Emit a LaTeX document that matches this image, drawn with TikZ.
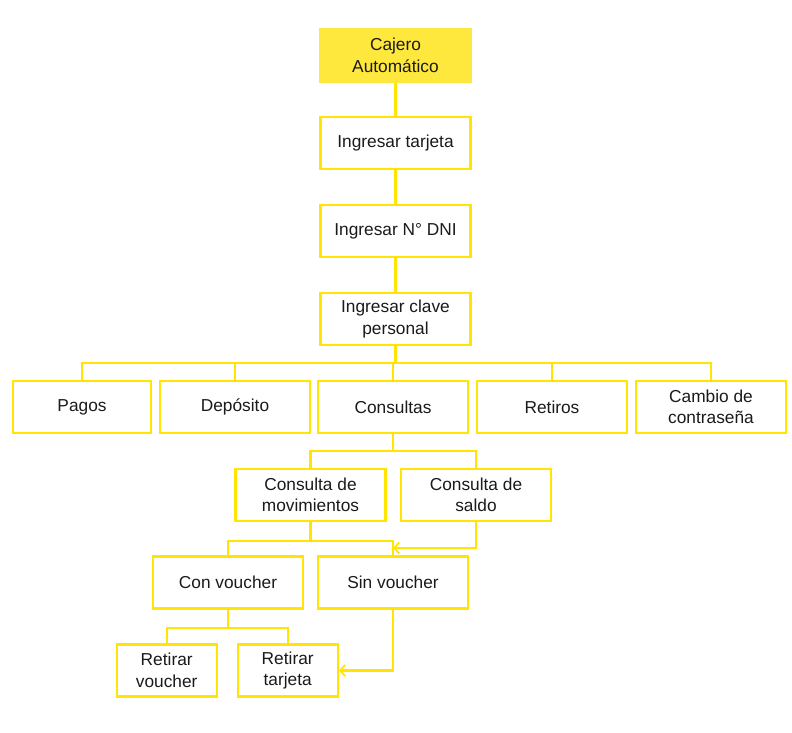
\documentclass[tikz,border=0pt]{standalone}
\usepackage{fontspec}
\setmainfont{Liberation Sans}
\usetikzlibrary{arrows.meta}
\definecolor{ylw}{HTML}{FFE500}
\definecolor{ylwfill}{HTML}{FFE83D}
\definecolor{txt}{HTML}{1A1A1A}
\tikzset{
  box/.style={draw=ylw, line width=2.4pt, rectangle, align=center, text=txt,
    minimum width=150pt, minimum height=52pt, inner sep=2pt,
    font=\fontsize{17.3}{21.5}\selectfont},
  smallbox/.style={box, minimum width=100pt},
  conn/.style={draw=ylw, line width=2.4pt},
  arr/.style={conn, -{Straight Barb[length=5pt,width=11pt,line width=1.8pt]}}
}
\begin{document}
\begin{tikzpicture}[x=1pt,y=-1pt]
\useasboundingbox (0,0) rectangle (792,732);
\node[box, fill=ylwfill, draw=ylwfill] (cajero) at (395.5,55.5) {Cajero\\Automático};
\node[box] (tarjeta) at (395.5,143) {Ingresar tarjeta};
\node[box] (dni) at (395.5,231) {Ingresar N° DNI};
\node[box] (clave) at (395.5,319) {Ingresar clave\\personal};
\node[box, minimum width=138pt] (pagos) at (82,407) {Pagos};
\node[box] (deposito) at (235,407) {Depósito};
\node[box] (consultas) at (393,407) {Consultas};
\node[box] (retiros) at (552,407) {Retiros};
\node[box] (cambio) at (711,407) {Cambio de\\contraseña};
\node[box] (mov) at (310.5,495) {Consulta de\\movimientos};
\node[box] (saldo) at (476,495) {Consulta de\\saldo};
\node[box] (con) at (228,582.5) {Con voucher};
\node[box] (sin) at (393,582.5) {Sin voucher};
\node[smallbox] (rv) at (166.7,670.5) {Retirar\\voucher};
\node[smallbox] (rt) at (287.7,670.5) {Retirar\\tarjeta};

\draw[conn] (cajero) -- (tarjeta);
\draw[conn] (tarjeta) -- (dni);
\draw[conn] (dni) -- (clave);

\draw[conn] (clave.south) -- ++(0,17) coordinate (b1);
\draw[conn] (b1) -| (pagos.north);
\draw[conn] (b1) -| (deposito.north);
\draw[conn] (b1) -| (consultas.north);
\draw[conn] (b1) -| (retiros.north);
\draw[conn] (b1) -| (cambio.north);

\draw[conn] (consultas.south) -- ++(0,17) coordinate (b2);
\draw[conn] (b2) -| (mov.north);
\draw[conn] (b2) -| (saldo.north);

\draw[conn] (mov.south) -- ++(0,19) coordinate (b3);
\draw[conn] (b3) -| (con.north);
\draw[conn] (b3) -| (sin.north);

\coordinate (join) at (393,548);
\draw[arr] (saldo.south) |- (join);

\draw[conn] (con.south) -- ++(0,18) coordinate (b4);
\draw[conn] (b4) -| (rv.north);
\draw[conn] (b4) -| (rt.north);

\draw[arr] (sin.south) |- (rt.east);
\end{tikzpicture}
\end{document}
